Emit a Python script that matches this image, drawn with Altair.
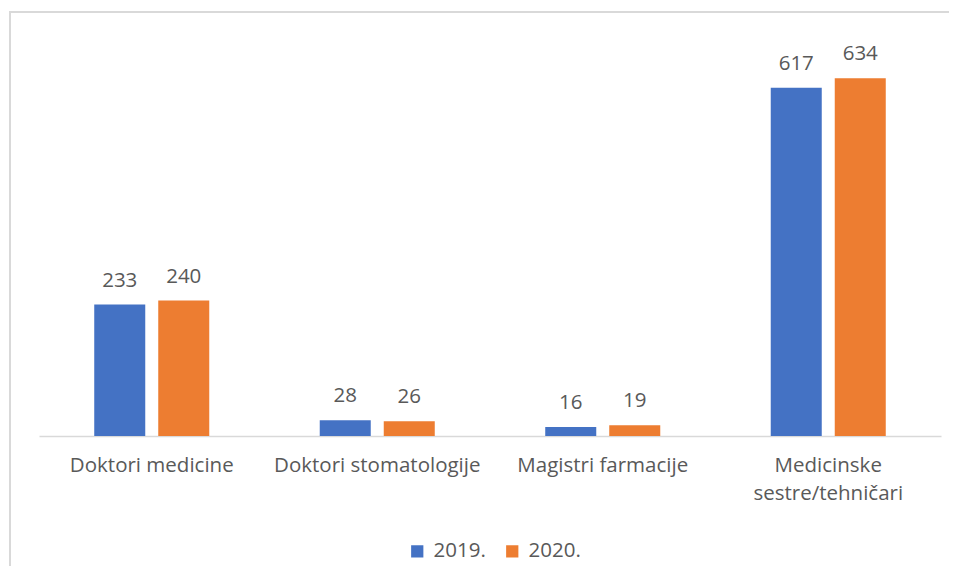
import altair as alt
import pandas as pd

categories = ["Doktori medicine", "Doktori stomatologije", "Magistri farmacije", "Medicinske sestre/tehničari"]
years = ["2019.", "2020."]
values_2019 = [233, 28, 16, 617]
values_2020 = [240, 26, 19, 634]
colors = ["#4472C4", "#ED7D31"]

rows = []
for c, a, b in zip(categories, values_2019, values_2020):
    rows.append({"cat": c, "year": years[0], "val": a})
    rows.append({"cat": c, "year": years[1], "val": b})
df = pd.DataFrame(rows)

W, H = 902, 395
FONT = "Open Sans"
TXT = "#595959"
FS = 20.5

x = alt.X("cat:N", sort=categories, title=None,
          scale=alt.Scale(paddingInner=0, paddingOuter=0),
          axis=alt.Axis(labelAngle=0, ticks=False, domainColor="#d9d9d9", domainWidth=1.5,
                        labelFont=FONT, labelFontSize=FS, labelColor=TXT, labelPadding=19,
                        labelBaseline="top", labelLineHeight=28, labelLimit=0,
                        labelExpr="datum.value == 'Medicinske sestre/tehničari' ? ['Medicinske', 'sestre/tehničari'] : datum.value"))
xo = alt.XOffset("year:N", sort=years, scale=alt.Scale(paddingInner=0.203, paddingOuter=0.863))
y = alt.Y("val:Q", scale=alt.Scale(domain=[0, 700]), axis=None)
color = alt.Color("year:N", sort=years, scale=alt.Scale(domain=years, range=colors),
                  legend=alt.Legend(title=None, orient="none", legendX=368, legendY=500, direction="horizontal",
                                    symbolType="square", symbolSize=150, symbolStrokeWidth=0,
                                    labelFont=FONT, labelFontSize=FS, labelColor=TXT,
                                    columnPadding=16, symbolOffset=0, labelOffset=6))

bars = alt.Chart(df).mark_bar().encode(x=x, xOffset=xo, y=y, color=color)
labels = alt.Chart(df).mark_text(baseline="alphabetic", dy=-18, font=FONT, fontSize=FS, color=TXT).encode(
    x=x, xOffset=xo, y=y, text="val:Q")

frame = pd.DataFrame({"a": [0]})
top_line = alt.Chart(frame).mark_rule(stroke="#d9d9d9", strokeWidth=2, clip=False).encode(
    x=alt.value(-30), x2=alt.value(960), y=alt.value(-29))
left_line = alt.Chart(frame).mark_rule(stroke="#d9d9d9", strokeWidth=2, clip=False).encode(
    x=alt.value(-29), y=alt.value(-30), y2=alt.value(600))

chart = alt.layer(top_line, left_line, bars, labels).properties(
    width=W, height=H,
    autosize=alt.AutoSizeParams(type="none"),
    padding={"left": 31, "top": 33, "right": 8, "bottom": 130},
).configure_view(stroke=None)

chart.save("out.html", embed_options={"renderer": "svg", "actions": False})
